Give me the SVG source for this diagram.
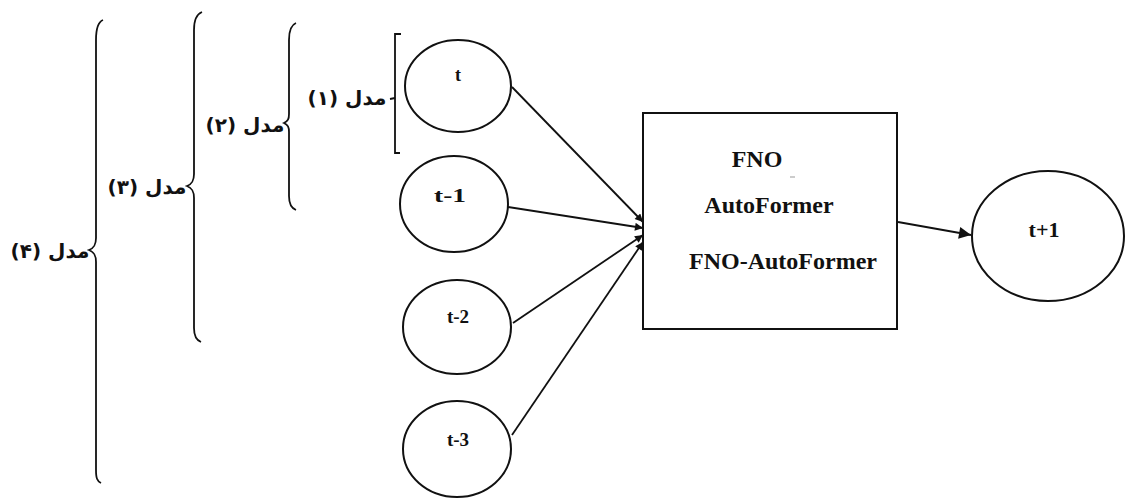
<svg xmlns="http://www.w3.org/2000/svg" width="1125" height="498" viewBox="0 0 1125 498">
<defs>
<style>
.node{fill:#fff;stroke:#111;stroke-width:2}
.brace{fill:none;stroke:#111;stroke-width:1.8}
.edge{fill:none;stroke:#111;stroke-width:1.8}
.lbl{font-family:"Liberation Serif",serif;font-weight:bold;fill:#111;text-anchor:middle}
.fa{font-family:"DejaVu Sans","Noto Sans",sans-serif;font-size:20px;font-weight:bold;fill:#111;text-anchor:middle}
</style>
<marker id="ah" viewBox="0 0 10 10" refX="10" refY="5" markerWidth="10" markerHeight="8" orient="auto" markerUnits="userSpaceOnUse">
<path d="M0,0 L10,5 L0,10 z" fill="#111"/>
</marker>
<marker id="ah2" viewBox="0 0 10 10" refX="10" refY="5" markerWidth="14" markerHeight="12" orient="auto" markerUnits="userSpaceOnUse">
<path d="M0,0 L10,5 L0,10 z" fill="#111"/>
</marker>
</defs>
<rect width="1125" height="498" fill="#fff"/>

<g id="braces">
<path class="brace" d="M103,20 C98,22 96,28 96,40 L96,238 C96,245 94,248 89,250 C94,252 96,255 96,262 L96,470 C96,478 97,481 101,483"/>
<path class="brace" d="M202,12 C197,14 194,20 194,30 L194,174 C194,181 192,184 187,186 C192,188 194,191 194,198 L194,328 C194,336 196,340 201,342"/>
<path class="brace" d="M296,23 C291,25 289,30 289,40 L289,114 C289,119 288,121 284,123 C288,125 289,127 289,132 L289,196 C289,204 291,208 296,210"/>
<path class="brace" d="M401,34 L395,34 L395,153 L400,153"/>
<path class="brace" d="M395,98 L390,99"/>
</g>

<g id="labels">
<text class="fa" x="50" y="258">مدل (۴)</text>
<text class="fa" x="147" y="194">مدل (۳)</text>
<text class="fa" x="245" y="132">مدل (۲)</text>
<text class="fa" x="347" y="105">مدل (۱)</text>
</g>

<g id="connectors">
<line class="edge" x1="512" y1="87" x2="643" y2="222" marker-end="url(#ah)"/>
<line class="edge" x1="508" y1="207" x2="643" y2="228" marker-end="url(#ah)"/>
<line class="edge" x1="513" y1="323" x2="643" y2="235" marker-end="url(#ah)"/>
<line class="edge" x1="512" y1="435" x2="643" y2="242" marker-end="url(#ah)"/>
<line class="edge" x1="898" y1="222" x2="971" y2="235" marker-end="url(#ah2)"/>
</g>

<g id="node-t">
<ellipse class="node" cx="458" cy="86" rx="53" ry="46"/>
<text class="lbl" x="458" y="81" font-size="18">t</text>
</g>
<g id="node-t1">
<ellipse class="node" cx="454" cy="204" rx="54" ry="48"/>
<text class="lbl" x="450" y="202" font-size="19" textLength="32" lengthAdjust="spacingAndGlyphs">t-1</text>
</g>
<g id="node-t2">
<ellipse class="node" cx="457" cy="327" rx="54" ry="47"/>
<text class="lbl" x="458" y="323" font-size="19">t-2</text>
</g>
<g id="node-t3">
<ellipse class="node" cx="457" cy="449" rx="54" ry="48"/>
<text class="lbl" x="458" y="446" font-size="19">t-3</text>
</g>

<g id="node-model">
<rect class="node" x="643" y="113" width="254" height="216"/>
<text class="lbl" x="757" y="167" font-size="24">FNO</text>
<line x1="790" y1="177" x2="795" y2="177" stroke="#999" stroke-width="1"/>
<text class="lbl" x="769" y="213" font-size="24">AutoFormer</text>
<text class="lbl" x="783" y="269" font-size="24">FNO-AutoFormer</text>
</g>

<g id="node-out">
<ellipse class="node" cx="1048" cy="236" rx="76" ry="65"/>
<text class="lbl" x="1044" y="237" font-size="22">t+1</text>
</g>
</svg>
